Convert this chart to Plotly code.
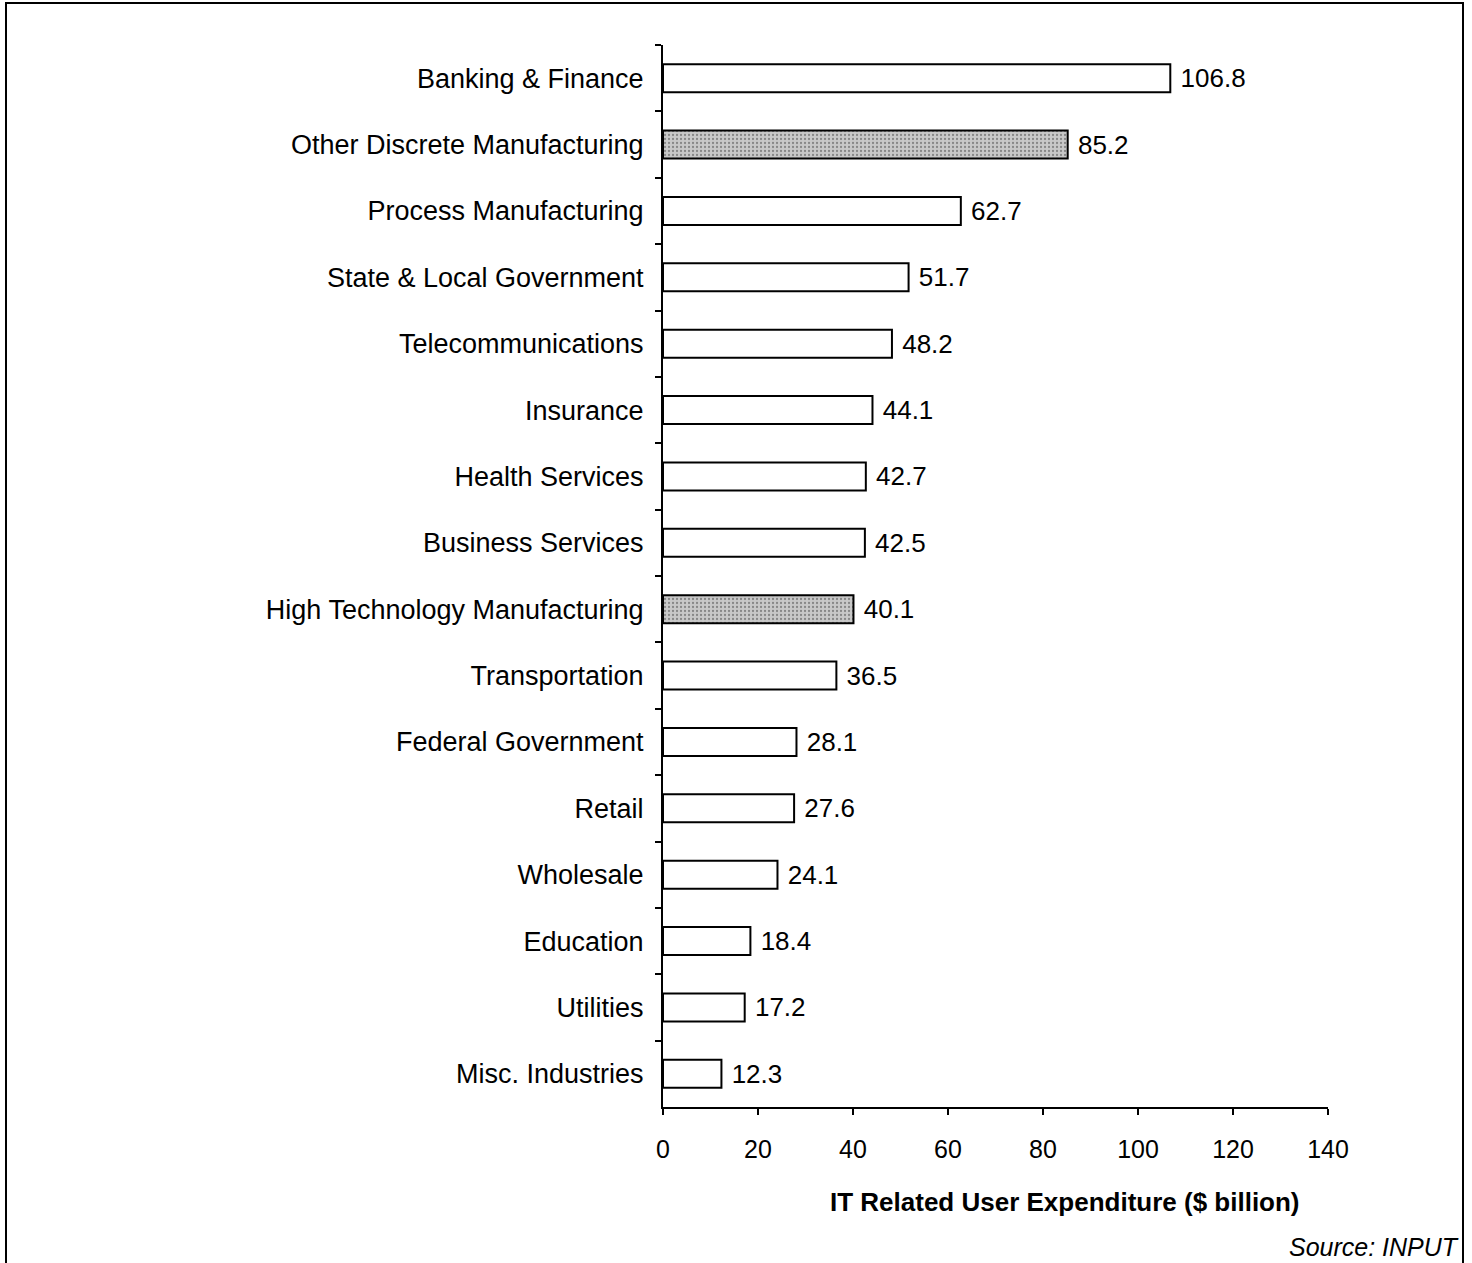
import plotly.graph_objects as go

# Industry sectors, listed top to bottom
industries = [
    "Banking & Finance",
    "Other Discrete Manufacturing",
    "Process Manufacturing",
    "State & Local Government",
    "Telecommunications",
    "Insurance",
    "Health Services",
    "Business Services",
    "High Technology Manufacturing",
    "Transportation",
    "Federal Government",
    "Retail",
    "Wholesale",
    "Education",
    "Utilities",
    "Misc. Industries",
]
# IT related user expenditure, $ billion
expenditure = [106.8, 85.2, 62.7, 51.7, 48.2, 44.1, 42.7, 42.5,
               40.1, 36.5, 28.1, 27.6, 24.1, 18.4, 17.2, 12.3]
# Manufacturing segments highlighted with a shaded fill
highlighted = ["Other Discrete Manufacturing", "High Technology Manufacturing"]

x_ticks = [0, 20, 40, 60, 80, 100, 120, 140]

FONT = "Liberation Sans, Arial, Helvetica, sans-serif"

W, H = 1472, 1263
L, R, T, B = 663, 144, 45, 156

fill_colors = ["#c8c8c8" if c in highlighted else "white" for c in industries]
pattern_shapes = ["." if c in highlighted else "" for c in industries]

fig = go.Figure(
    go.Bar(
        y=industries,
        x=expenditure,
        orientation="h",
        marker=dict(
            color=fill_colors,
            line=dict(color="black", width=2),
            pattern=dict(shape=pattern_shapes, fgcolor="#8c8c8c",
                         size=4, solidity=0.25, fillmode="overlay"),
        ),
        width=0.42,
        texttemplate="\u00a0%{x:.1f}",
        textposition="outside",
        constraintext="none",
        cliponaxis=False,
        textfont=dict(family=FONT, size=26, color="black"),
        hoverinfo="skip",
    )
)

fig.update_layout(
    width=W,
    height=H,
    margin=dict(l=L, r=R, t=T, b=B, pad=0),
    paper_bgcolor="white",
    plot_bgcolor="white",
    showlegend=False,
    font=dict(family=FONT, size=24, color="black"),
    xaxis=dict(
        range=[0, 140],
        tickvals=x_ticks,
        ticktext=[str(v) for v in x_ticks],
        showgrid=False,
        zeroline=False,
        showline=True,
        linecolor="black",
        linewidth=2,
        ticks="outside",
        ticklen=6,
        tickwidth=2,
        tickcolor="black",
        ticklabelstandoff=13,
        tickfont=dict(family=FONT, size=25),
    ),
    yaxis=dict(
        categoryorder="array",
        categoryarray=industries,
        autorange=False,
        range=[len(industries) - 0.5, -0.5],
        showgrid=False,
        zeroline=False,
        showline=True,
        linecolor="black",
        linewidth=2,
        ticks="outside",
        tickson="boundaries",
        ticklen=6,
        tickwidth=2,
        tickcolor="black",
        ticklabelstandoff=12,
        tickfont=dict(family=FONT, size=27),
    ),
)

# Axis title
fig.add_annotation(
    text="<b>IT Related User Expenditure ($ billion)</b>",
    xref="paper", yref="paper",
    x=(1065 - L) / (W - L - R), y=-(1202 - (H - B)) / (H - T - B),
    xanchor="center", yanchor="middle",
    showarrow=False,
    font=dict(family=FONT, size=26, color="black"),
)

# Source note
fig.add_annotation(
    text="<i>Source: INPUT</i>",
    xref="paper", yref="paper",
    x=(1461 - L) / (W - L - R), y=-(1247 - (H - B)) / (H - T - B),
    xanchor="right", yanchor="middle",
    showarrow=False,
    font=dict(family=FONT, size=25, color="black"),
)

# Frame around the chart
pw, ph = W - L - R, H - T - B
fig.add_shape(
    type="rect",
    xref="paper", yref="paper",
    x0=(6 - L) / pw, x1=(1463 - L) / pw,
    y0=-(1275 - (H - B)) / ph, y1=1 + (T - 3) / ph,
    line=dict(color="black", width=2),
    fillcolor="rgba(0,0,0,0)",
    layer="below",
)

fig.write_html("out.html")
